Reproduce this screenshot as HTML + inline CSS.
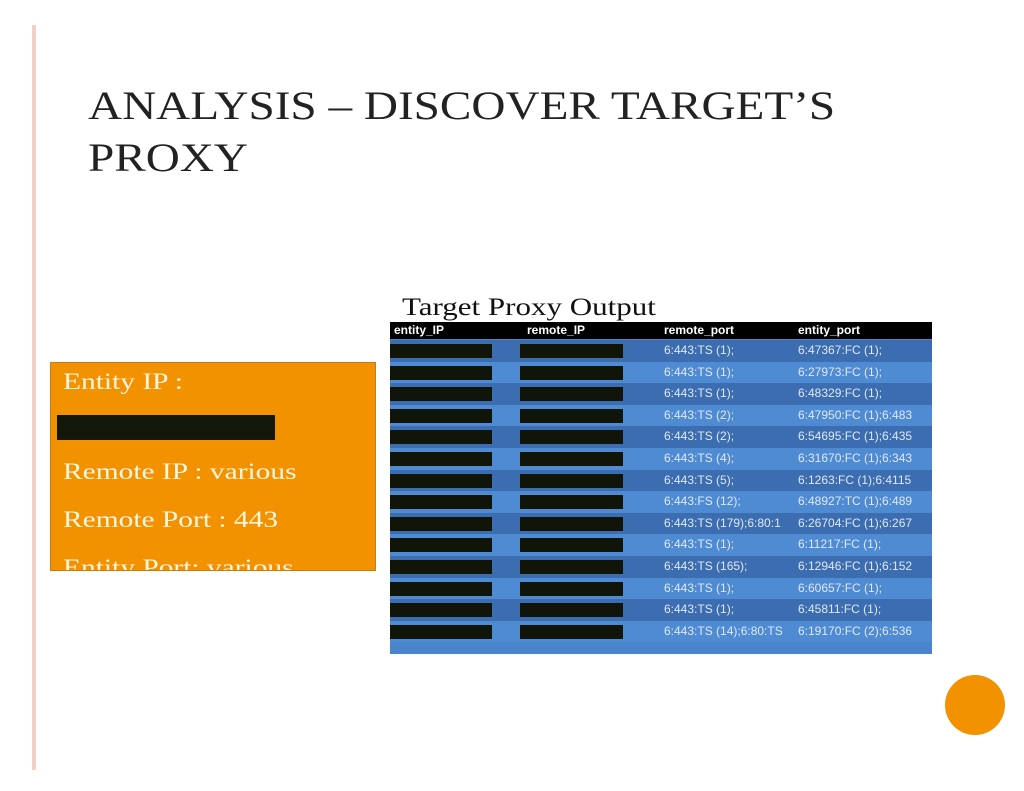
<!DOCTYPE html>
<html><head><meta charset="utf-8"><style>
body{margin:0;width:1024px;height:791px;background:#fff;position:relative;overflow:hidden;font-family:"Liberation Serif",serif}
.a{position:absolute}
.row{position:absolute;left:390px;width:542px;height:21.6px;font-family:"Liberation Sans",sans-serif;font-size:12px;color:#dfe8f5;line-height:21.6px}
.r{position:absolute;background:#111509;height:14px;top:4px}
.sx{transform-origin:0 0;white-space:nowrap}
</style></head><body>
<div class="a" style="left:32px;top:25px;width:4px;height:745px;background:#f4cfc6"></div>
<div class="a sx" style="left:88px;top:80px;font-size:40px;line-height:52px;color:#222;transform:scaleX(1.18)">ANALYSIS – DISCOVER TARGET’S<br>PROXY</div>
<div class="a" style="left:50px;top:362px;width:324px;height:207px;background:#f39200;border:1px solid #c97a10;overflow:hidden;color:#fff6e0;font-size:23px">
 <div class="a sx" style="left:12px;top:6px;transform:scaleX(1.28)">Entity IP :</div>
 <div class="a" style="left:6px;top:52px;width:218px;height:25px;background:#131709"></div>
 <div class="a sx" style="left:12px;top:96px;transform:scaleX(1.28)">Remote IP : various</div>
 <div class="a sx" style="left:12px;top:144px;transform:scaleX(1.28)">Remote Port : 443</div>
 <div class="a sx" style="left:12px;top:192px;transform:scaleX(1.28)">Entity Port: various</div>
</div>
<div class="a sx" style="left:402px;top:295px;font-size:25px;line-height:26px;color:#111;transform:scaleX(1.24)">Target Proxy Output</div>
<div class="a" style="left:390px;top:322px;width:542px;height:332px;background:#4a84cc"></div>
<div class="a" style="left:390px;top:322px;width:542px;height:17px;background:#000;color:#fff;font-family:'Liberation Sans',sans-serif;font-weight:bold;font-size:12px;line-height:17px">
 <span class="a" style="left:4px">entity_IP</span><span class="a" style="left:137px">remote_IP</span><span class="a" style="left:274px">remote_port</span><span class="a" style="left:408px">entity_port</span>
</div>
<div id="rows"></div>
<div class="a" style="left:945px;top:675px;width:60px;height:60px;border-radius:50%;background:#f39200"></div>
<script>
const remotePorts=["6:443:TS (1);","6:443:TS (1);","6:443:TS (1);","6:443:TS (2);","6:443:TS (2);","6:443:TS (4);","6:443:TS (5);","6:443:FS (12);","6:443:TS (179);6:80:1","6:443:TS (1);","6:443:TS (165);","6:443:TS (1);","6:443:TS (1);","6:443:TS (14);6:80:TS"];
const entityPorts=["6:47367:FC (1);","6:27973:FC (1);","6:48329:FC (1);","6:47950:FC (1);6:483","6:54695:FC (1);6:435","6:31670:FC (1);6:343","6:1263:FC (1);6:4115","6:48927:TC (1);6:489","6:26704:FC (1);6:267","6:11217:FC (1);","6:12946:FC (1);6:152","6:60657:FC (1);","6:45811:FC (1);","6:19170:FC (2);6:536"];
const c=document.getElementById('rows');
remotePorts.forEach((rp,i)=>{
 const d=document.createElement('div');
 
 
 d.className='row';d.style.top=(340+i*21.6)+'px';
 d.style.background=i%2?'#4f8bd3':'#3b6db0';
 d.innerHTML='<div class="r" style="left:0;width:102px"></div><div class="r" style="left:130px;width:103px"></div><span class="a" style="left:274px;white-space:nowrap;width:134px;overflow:hidden">'+rp+'</span><span class="a" style="left:408px;white-space:nowrap;width:134px;overflow:hidden">'+entityPorts[i]+'</span>';
 c.appendChild(d);
});
</script>
</body></html>
